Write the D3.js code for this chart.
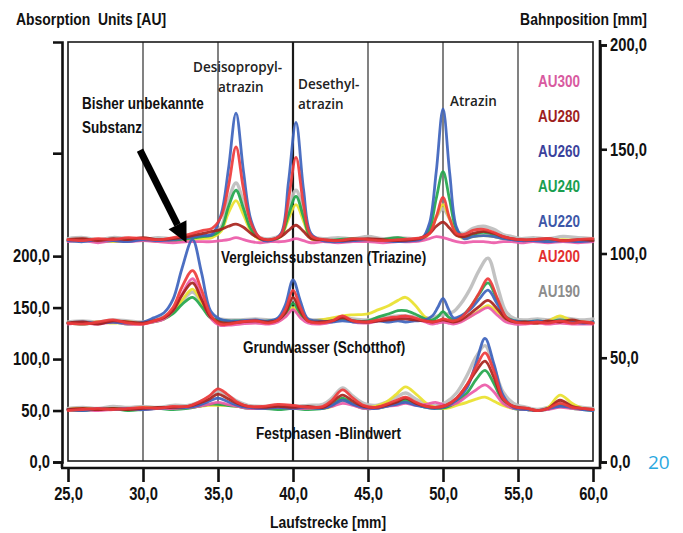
<!DOCTYPE html>
<html>
<head>
<meta charset="utf-8">
<script src="https://cdn.jsdelivr.net/npm/d3@7/dist/d3.min.js"></script>
<style>
  html, body { margin: 0; padding: 0; background: #ffffff; }
  svg { display: block; }
</style>
</head>
<body>
<script>
// ---- Series (wavelength channels) ----
const seriesNames = ["AU300", "AU280", "AU260", "AU240", "AU220", "AU200", "AU190"];
const lineColors  = ["#ec5aa8", "#a8221c", "#3d63bd", "#22a64c", "#e9e12e", "#ee3b3b", "#bdbdbd"];
const legendColors = ["#d85aa0", "#9e1f1f", "#3b429c", "#1a9e50", "#3d57a8", "#e3302f", "#8c8c8c"];
const drawOrder = ["AU190", "AU220", "AU240", "AU300", "AU260", "AU280", "AU200"];

// ---- Vergleichssubstanzen (Triazine): Laufstrecke [mm] and absorption [AU] ----
const vergleichMM = [25,26,27,28,29,30,31,32,33,34, 34.6,35.2,35.7,36.2,36.7,37.2,37.8, 38.5,39.2,39.7,40.2,40.7,41.2,
  42,43,44,45,46,47,48, 48.6,49.1,49.55,50,50.45,50.9,51.4, 52,52.7,53.4,54,54.6,55.2, 56,57,58,59,60];
const vergleichAU300 = [214,215,213,215,214,215,214,213,214,214, 214,215,216,218,216,214,213, 214,214,215,217,215,213,
  214,213,214,214,213,214,214, 215,217,219,218,216,214,213, 214,214,213,214,214,213, 214,213,214,213,214];
const vergleichAU280 = [216,217,215,217,216,218,216,217,219,222, 224,226,229,231,228,222,217, 216,219,225,230,224,217,
  216,215,216,217,216,215,216, 218,222,229,233,227,220,219, 222,224,222,219,217,216, 216,217,215,216,215];
const vergleichAU260 = [215,214,216,215,214,216,215,216,218,220, 221,240,285,339,282,235,217, 215,222,272,330,265,222,
  215,214,215,216,215,214,215, 217,232,282,343,280,228,217, 219,220,219,217,216,215, 215,214,215,214,215];
const vergleichAU240 = [215,216,214,215,216,215,216,215,217,219, 220,226,248,264,246,226,217, 215,220,240,258,238,218,
  215,216,217,215,216,218,215, 216,226,256,282,254,226,219, 221,223,221,218,216,215, 215,216,214,215,216];
const vergleichAU220 = [215,215,216,214,215,216,214,215,216,217, 218,224,242,254,240,224,216, 215,219,236,250,234,217,
  215,214,215,216,215,214,215, 216,222,238,250,236,222,217, 219,220,219,217,216,215, 215,215,216,215,215];
const vergleichAU200 = [216,215,217,216,218,217,216,218,221,225, 227,238,268,306,265,232,218, 216,221,255,296,250,220,
  216,215,217,216,215,216,217, 218,222,238,257,236,222,221, 225,226,223,219,217,216, 216,217,215,216,217];
const vergleichAU190 = [217,218,216,218,217,216,218,217,219,220, 221,228,254,271,252,228,218, 217,221,245,264,244,220,
  217,218,217,219,217,218,217, 218,224,238,246,236,224,222, 227,229,226,221,219,217, 218,217,219,218,217];

// ---- Grundwasser (Schotthof) ----
const grundwasserMM = [25,26,27,28,29,30, 30.7,31.4,32.0,32.6,33.3,33.9,34.5,35.1,35.7, 36.5,37.5,38.4,
  39.0,39.5,40.0,40.5,41.0, 41.8,42.6,43.3,44.0, 45.0,45.7,46.4,47.0,47.5,48.1,48.8, 49.3,49.65,50.0,50.35,50.7,
  51.2,51.8,52.4,53.0,53.6,54.2,54.8, 55.5,56.3,57.0,57.8,58.6,59.3,60];
const grundwasserAU300 = [134,135,134,136,134,134, 136,139,147,163,178,160,140,133,133, 134,135,134,
  136,141,148,140,135, 134,136,141,136, 135,137,139,140,141,139,136, 134,135,136,135,134,
  136,141,146,150,143,136,134, 134,135,134,135,134,134,134];
const grundwasserAU280 = [135,136,134,137,136,135, 137,140,147,162,174,158,141,136,135, 136,137,136,
  138,145,160,146,137, 136,137,140,137, 136,137,138,139,139,138,137, 136,137,138,137,136,
  138,144,151,157,149,139,136, 136,135,137,136,138,136,135];
const grundwasserAU260 = [135,136,135,136,135,136, 140,145,158,188,216,184,147,139,137, 137,138,137,
  140,153,177,156,139, 137,136,137,136, 136,137,136,137,136,137,138, 142,150,159,149,140,
  142,148,158,167,154,140,137, 136,137,136,137,136,135,136];
const grundwasserAU240 = [135,134,135,136,134,135, 136,139,144,153,160,151,140,138,137, 137,136,137,
  138,144,154,144,137, 136,137,139,137, 137,141,144,147,147,144,139, 138,141,146,141,138,
  141,150,163,174,158,141,137, 136,137,136,138,136,135,136];
const grundwasserAU220 = [135,135,136,135,136,135, 136,139,145,157,168,155,140,137,136, 136,137,136,
  137,142,150,142,137, 138,140,142,143, 144,148,152,157,160,153,141, 137,137,138,137,136,
  137,141,147,152,146,138,136, 136,135,137,142,137,136,135];
const grundwasserAU200 = [135,134,136,138,135,134, 137,141,150,170,186,167,143,134,134, 136,137,135,
  138,148,167,150,137, 135,137,142,137, 136,138,140,141,142,140,137, 136,137,139,138,137,
  140,150,164,178,160,141,136, 135,136,135,137,135,136,135];
const grundwasserAU190 = [136,137,136,138,137,136, 138,141,146,156,165,155,142,139,138, 138,139,138,
  139,146,158,147,139, 138,139,141,139, 138,140,141,142,142,141,140, 140,142,143,144,146,
  154,168,186,198,172,146,139, 138,139,138,140,139,138,139];

// ---- Festphasen-Blindwert ----
const blindwertMM = [25,26,27,28,29,30,31,32,33, 33.7,34.4,35.0,35.6,36.3,37.0, 38,39,40,41,42,
  42.6,43.3,44.0,44.7, 45.5,46.2,46.9,47.5,48.2,48.9,49.5, 50.2,50.9,51.6,52.2,52.8,53.4,54.0,54.7,
  55.6,56.3,57.0,57.8,58.6,59.3,60];
const blindwertAU300 = [51,51,50,51,52,51,52,52,53, 54,56,58,56,54,52, 52,53,52,52,53,
  54,57,55,52, 52,54,55,57,55,56,58, 55,57,64,70,75,68,57,52, 51,50,51,53,52,51,51];
const blindwertAU280 = [51,52,51,52,51,52,53,53,54, 57,61,66,62,57,54, 53,54,53,54,53,
  58,65,59,54, 53,55,58,62,57,54,53, 55,62,75,88,98,82,61,54, 52,50,52,60,54,52,51];
const blindwertAU260 = [51,50,52,51,52,51,52,53,53, 55,59,62,59,55,53, 52,53,52,53,52,
  55,60,56,53, 52,54,56,58,55,53,52, 54,60,72,96,120,95,65,53, 51,50,52,54,53,51,50];
const blindwertAU240 = [51,50,51,52,50,51,52,51,52, 54,56,56,55,54,52, 52,51,52,51,52,
  55,62,56,52, 52,54,57,60,56,53,52, 53,58,67,80,89,76,59,52, 51,50,51,55,52,51,50];
const blindwertAU220 = [51,52,51,52,51,53,52,53,53, 54,55,55,55,54,53, 52,53,52,53,52,
  54,60,56,53, 54,58,66,73,66,57,53, 52,55,58,61,63,59,55,52, 51,50,53,65,57,52,51];
const blindwertAU200 = [50,51,52,51,52,53,52,54,54, 58,64,71,66,58,54, 54,56,55,53,54,
  60,70,62,55, 53,56,60,63,58,54,53, 55,62,75,92,106,88,62,54, 52,50,52,57,53,52,51];
const blindwertAU190 = [52,53,52,54,53,54,53,55,55, 58,63,69,65,59,55, 54,55,54,55,56,
  62,72,64,57, 55,58,63,67,61,56,55, 58,67,84,102,113,92,68,57, 53,51,53,58,55,53,52];

// ---- Axis ticks ----
const xTicks = [25, 30, 35, 40, 45, 50, 55, 60];
const gridLines = [30, 35, 40, 45, 50, 55];
const leftTicks = [0, 50, 100, 150, 200, 300];
const rightTicks = [0, 50, 100, 150, 200];

// ---- Chromatogram blocks ----
const blocks = [
  { mm: vergleichMM, values: [vergleichAU300, vergleichAU280, vergleichAU260, vergleichAU240, vergleichAU220, vergleichAU200, vergleichAU190] },
  { mm: grundwasserMM, values: [grundwasserAU300, grundwasserAU280, grundwasserAU260, grundwasserAU240, grundwasserAU220, grundwasserAU200, grundwasserAU190] },
  { mm: blindwertMM, values: [blindwertAU300, blindwertAU280, blindwertAU260, blindwertAU240, blindwertAU220, blindwertAU200, blindwertAU190] }
];

const W = 683, H = 533;
const FONT = "'Liberation Sans', Arial, sans-serif";
const SX = 0.82; // horizontal squeeze for the narrow bold lettering
const LABEL_FONT = "'Open Sans','Noto Sans',sans-serif";

const deLocale = d3.formatLocale({ decimal: ",", thousands: ".", grouping: [3], currency: ["", " €"] });
const fmt = deLocale.format(".1f");

const svg = d3.select("body").append("svg").attr("width", W).attr("height", H);

const defs = svg.append("defs");
defs.append("filter").attr("id", "soft").attr("x", "-5%").attr("y", "-5%").attr("width", "110%").attr("height", "110%")
  .append("feGaussianBlur").attr("stdDeviation", 0.45);

// Scales: left AU axis, right Bahnposition axis, bottom Laufstrecke axis
const x = d3.scaleLinear().domain([25, 60]).range([68, 593]);
const yL = d3.scaleLinear().domain([0, 408]).range([462, 42]);
const yR = d3.scaleLinear().domain([0, 200]).range([462, 45]);

// Inner frame
svg.append("rect")
  .attr("x", x(25)).attr("y", yL(408))
  .attr("width", x(60) - x(25)).attr("height", yL(0) - yL(408) - 1)
  .attr("fill", "#fff").attr("stroke", "#1a1a1a").attr("stroke-width", 1.6);

// Vertical grid lines
svg.append("g").selectAll("line").data(gridLines).join("line")
  .attr("x1", d => x(d)).attr("x2", d => x(d))
  .attr("y1", yL(408)).attr("y2", yL(0) - 1)
  .attr("stroke", "#1a1a1a")
  .attr("stroke-width", d => d === 40 ? 2.2 : 1.1);

// Traces
const line = d3.line().curve(d3.curveCatmullRom.alpha(0.5));
const traces = svg.append("g").attr("filter", "url(#soft)");
blocks.forEach(block => {
  drawOrder.forEach(name => {
    const k = seriesNames.indexOf(name);
    const pts = block.values[k].map((v, i) => [x(block.mm[i]), yL(v)]);
    traces.append("path")
      .attr("d", line(pts))
      .attr("fill", "none")
      .attr("stroke", lineColors[k])
      .attr("stroke-width", name === "AU190" ? 3.4 : 2.8)
      .attr("stroke-linejoin", "round")
      .attr("stroke-linecap", "round")
      .attr("opacity", 0.92);
  });
});

// Axes
function styleAxis(g, size) {
  g.selectAll("path.domain").attr("stroke", "#111").attr("stroke-width", 2.6);
  g.selectAll(".tick line").attr("stroke", "#111").attr("stroke-width", 2.6);
  g.selectAll(".tick text").attr("fill", "#111")
    .attr("font-family", FONT).attr("font-weight", "bold").attr("font-size", size)
    .each(function () {
      const t = d3.select(this);
      t.attr("x", (+t.attr("x") || 0) / SX).attr("transform", `scale(${SX},1)`);
    });
}

const leftAxis = svg.append("g").attr("transform", "translate(62,0)")
  .call(d3.axisLeft(yL).tickValues(leftTicks).tickFormat(d => d <= 200 ? fmt(d) : "")
    .tickSize(9).tickPadding(3));
styleAxis(leftAxis, 18);

const rightAxis = svg.append("g").attr("transform", "translate(600,0)")
  .call(d3.axisRight(yR).tickValues(rightTicks).tickFormat(fmt).tickSize(7).tickPadding(3));
styleAxis(rightAxis, 18);

const bottomAxis = svg.append("g").attr("transform", "translate(0,468)")
  .call(d3.axisBottom(x).tickValues(xTicks).tickFormat(fmt).tickSize(14).tickSizeOuter(0).tickPadding(5));
styleAxis(bottomAxis, 18);
bottomAxis.select("path.domain").remove();

// Axis line extensions forming the outer corners
const axisLines = svg.append("g").attr("stroke", "#111").attr("stroke-width", 2.6).attr("fill", "none");
axisLines.append("line").attr("x1", 62).attr("x2", 62).attr("y1", yL(0)).attr("y2", 468);
axisLines.append("line").attr("x1", 600).attr("x2", 600).attr("y1", 40).attr("y2", 468);
axisLines.append("line").attr("x1", 61).attr("x2", 601.3).attr("y1", 468).attr("y2", 468);

// Narrow bold lettering
function boldText(t, px, py, anchor, size, color) {
  return svg.append("text")
    .attr("transform", `translate(${px},${py}) scale(${SX},1)`)
    .attr("text-anchor", anchor || "start")
    .attr("font-family", FONT).attr("font-weight", "bold")
    .attr("font-size", size || 16.5).attr("fill", color || "#111")
    .style("white-space", "pre")
    .text(t);
}
boldText("Absorption  Units [AU]", 16, 25, "start", 17);
boldText("Bahnposition [mm]", 647, 25, "end", 17);
boldText("Laufstrecke [mm]", 328, 528, "middle", 17);

// Block titles
boldText("Vergleichssubstanzen (Triazine)", 221, 263);
boldText("Grundwasser (Schotthof)", 243, 353);
boldText("Festphasen -Blindwert", 256, 439);

// Unknown substance note with arrow
boldText("Bisher unbekannte", 82, 109);
boldText("Substanz", 82, 133);
const arrowFrom = [29.8, 303];
const arrowTo = [32.9, 213];
{
  const x0 = x(arrowFrom[0]), y0 = yL(arrowFrom[1]);
  const x1 = x(arrowTo[0]), y1 = yL(arrowTo[1]);
  const ang = Math.atan2(y1 - y0, x1 - x0);
  const headLen = 20, headW = 10;
  const bx = x1 - headLen * Math.cos(ang), by = y1 - headLen * Math.sin(ang);
  svg.append("line").attr("x1", x0).attr("y1", y0).attr("x2", bx).attr("y2", by)
    .attr("stroke", "#000").attr("stroke-width", 7);
  const nx = -Math.sin(ang), ny = Math.cos(ang);
  svg.append("path")
    .attr("d", `M${x1},${y1}L${bx + nx * headW},${by + ny * headW}L${bx - nx * headW},${by - ny * headW}Z`)
    .attr("fill", "#000");
}

// Peak names
function peakText(t, px, py) {
  return svg.append("text").attr("x", px).attr("y", py)
    .attr("font-family", LABEL_FONT).attr("font-weight", 600)
    .attr("font-size", 13.5).attr("fill", "#222").text(t);
}
peakText("Desisopropyl-", 193, 72);
peakText("atrazin", 218, 92);
peakText("Desethyl-", 298, 89);
peakText("atrazin", 298, 109);
peakText("Atrazin", 450, 106);

// Legend
seriesNames.forEach((name, i) => {
  boldText(name, 559, 87 + i * 35, "middle", 16.5, legendColors[i]);
});

// Page number
svg.append("text").attr("x", 648).attr("y", 469)
  .attr("font-family", LABEL_FONT).attr("font-weight", 400).attr("font-size", 19)
  .attr("fill", "#2aa8df").text("20");
</script>
</body>
</html>
